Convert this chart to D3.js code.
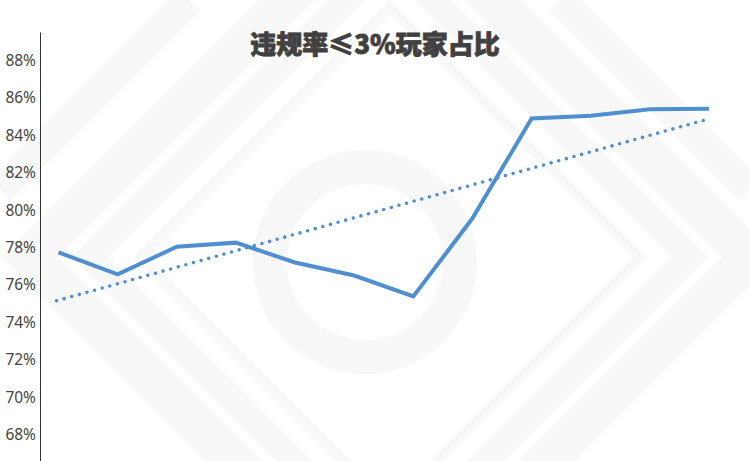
<!DOCTYPE html>
<html>
<head>
<meta charset="utf-8">
<script src="https://cdn.jsdelivr.net/npm/d3@7"></script>
<style>
  html, body { margin: 0; padding: 0; background: #fff; }
  svg { display: block; }
</style>
</head>
<body>
<svg id="chart" width="750" height="461"></svg>
<script>
// ---- data ----
const categories = ["1", "2", "3", "4", "5", "6", "7", "8", "9", "10", "11", "12"];
const shareValues = [77.74, 76.56, 78.04, 78.26, 77.2, 76.5, 75.38, 79.56, 84.9, 85.05, 85.39, 85.42];
const yTicks = [68, 70, 72, 74, 76, 78, 80, 82, 84, 86, 88];
const titleText = "违规率≤3%玩家占比";

const W = 750, H = 461;
const svg = d3.select("#chart");

// ---- faint watermark background ----
const bg = svg.append("g").attr("fill", "none").attr("stroke", "#f8f8f8");
const cx = 390, cy = 257;
[ {r: 300, w: 26}, {r: 250, w: 10}, {r: 360, w: 40} ].forEach(d => {
  bg.append("path")
    .attr("d", `M${cx},${cy - d.r} L${cx + d.r},${cy} L${cx},${cy + d.r} L${cx - d.r},${cy} Z`)
    .attr("stroke-width", d.w);
});
bg.append("path").attr("d", "M0,190 L190,0").attr("stroke-width", 30);
bg.append("path").attr("d", "M560,0 L750,190").attr("stroke-width", 30);
bg.append("circle").attr("cx", 365).attr("cy", 262).attr("r", 95)
  .attr("stroke", "#f8f8f8").attr("stroke-width", 34);

// ---- scales ----
const x = d3.scalePoint().domain(categories).range([58.5, 709]);
const y = d3.scaleLinear().domain([68, 88]).range([434.5, 60.5]);

// ---- y axis ----
const yAxis = d3.axisLeft(y)
  .tickValues(yTicks)
  .tickSize(0)
  .tickPadding(4)
  .tickFormat(d => d + "%");

const axisG = svg.append("g").attr("transform", "translate(40,0)").call(yAxis);
axisG.select(".domain").remove();
axisG.selectAll("text")
  .attr("fill", "#444")
  .attr("font-family", "'Noto Sans', 'DejaVu Sans', sans-serif")
  .attr("font-size", 15.5);

svg.append("line")
  .attr("x1", 40.5).attr("x2", 40.5)
  .attr("y1", y(89.5)).attr("y2", H)
  .attr("stroke", "#333").attr("stroke-width", 1);

// ---- linear trend line (least squares over the series) ----
const n = shareValues.length;
const xs = d3.range(n);
const mx = d3.mean(xs), my = d3.mean(shareValues);
const slope = d3.sum(xs, i => (i - mx) * (shareValues[i] - my)) / d3.sum(xs, i => (i - mx) ** 2);
const intercept = my - slope * mx;
const trend = [0, n - 1].map(i => ({c: categories[i], v: intercept + slope * i}));

svg.append("path")
  .datum(trend)
  .attr("fill", "none")
  .attr("stroke", "#4f8fd0")
  .attr("stroke-width", 3.6)
  .attr("stroke-linecap", "round")
  .attr("stroke-dasharray", "0 7.9")
  .attr("d", d3.line().x(d => x(d.c) - 2).y(d => y(d.v)));

// ---- main series line ----
svg.append("path")
  .datum(shareValues)
  .attr("fill", "none")
  .attr("stroke", "#4f8fd0")
  .attr("stroke-width", 4)
  .attr("stroke-linejoin", "miter")
  .attr("d", d3.line().x((d, i) => x(categories[i])).y(d => y(d)));

// ---- title ----
svg.append("text")
  .attr("x", 375)
  .attr("y", 54)
  .attr("text-anchor", "middle")
  .attr("font-family", "'Noto Sans CJK SC', sans-serif")
  .attr("font-weight", 900)
  .attr("font-size", 26)
  .attr("fill", "#404040")
  .attr("stroke", "#404040")
  .attr("stroke-width", 0.8)
  .text(titleText);
</script>
</body>
</html>
